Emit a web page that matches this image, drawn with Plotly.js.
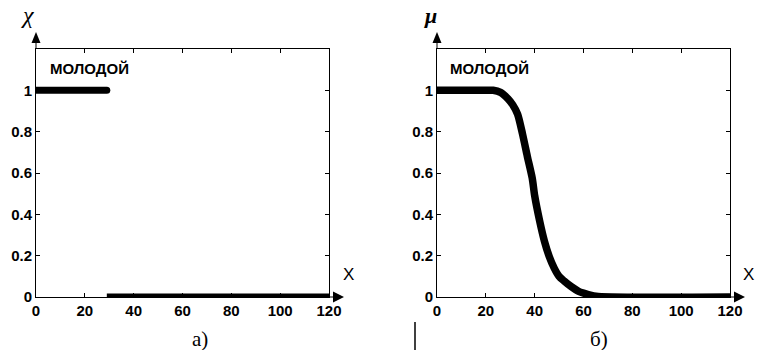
<!DOCTYPE html>
<html>
<head>
<meta charset="utf-8">
<script src="https://cdn.plot.ly/plotly-3.0.1.min.js"></script>
<style>
  html, body { margin: 0; padding: 0; background: #fff; }
  #chart { width: 760px; height: 350px; }
</style>
</head>
<body>
<div id="chart"></div>
<script>
// ---------- data ----------
const xTickVals = [0, 20, 40, 60, 80, 100, 120];
const xTickText = ['0', '20', '40', '60', '80', '100', '120'];
const yTickVals = [0, 0.2, 0.4, 0.6, 0.8, 1];
const yTickText = ['0', '0.2', '0.4', '0.6', '0.8', '1'];

// (a) crisp set "молодой"
const crispAgeHigh = [0, 29];
const crispValHigh = [1, 1];
const crispAgeLow = [29, 120];
const crispValLow = [0, 0];

// (б) fuzzy set "молодой"
const fuzzyAge = [0, 20, 23, 26, 29, 31, 33, 35, 37, 39, 40, 42, 44, 46, 48, 50, 52, 55, 58, 62, 66, 120];
const fuzzyMu  = [1, 1, 1, 0.99, 0.96, 0.93, 0.885, 0.79, 0.68, 0.575, 0.49, 0.37, 0.27, 0.195, 0.14, 0.1, 0.078, 0.05, 0.027, 0.012, 0.003, 0];

const setLabel = 'МОЛОДОЙ';
const panelLabels = ['а)', 'б)'];
const yTitles = ['χ', 'μ'];
const xTitle = 'X';

// ---------- layout helpers ----------
const W = 760, H = 350;
const px = x => x / W;
const py = y => 1 - y / H;
const sans = 'Liberation Sans, Arial, sans-serif';
const tickFont = { family: sans, size: 15, color: '#000', weight: 'bold' };

function xAxis(domain, anchor) {
  return {
    domain: domain, anchor: anchor, range: [0, 120],
    tickmode: 'array', tickvals: xTickVals, ticktext: xTickText,
    ticks: 'inside', ticklen: 4, tickwidth: 1, tickcolor: '#000',
    showline: true, linecolor: '#000', linewidth: 1, mirror: 'ticks',
    showgrid: false, zeroline: false, tickfont: tickFont, fixedrange: true
  };
}
function yAxis(anchor) {
  return {
    domain: [py(297), py(49)], anchor: anchor, range: [0, 1.2],
    tickmode: 'array', tickvals: yTickVals, ticktext: yTickText,
    ticks: 'inside', ticklen: 4, tickwidth: 1, tickcolor: '#000',
    showline: true, linecolor: '#000', linewidth: 1, mirror: 'ticks',
    showgrid: false, zeroline: false, tickfont: tickFont, fixedrange: true
  };
}

const traces = [
  { x: crispAgeHigh, y: crispValHigh, xaxis: 'x', yaxis: 'y', mode: 'lines',
    line: { color: '#000', width: 7 }, cliponaxis: false, showlegend: false },
  { x: crispAgeLow, y: crispValLow, xaxis: 'x', yaxis: 'y', mode: 'lines',
    line: { color: '#000', width: 7 }, cliponaxis: false, showlegend: false },
  { x: fuzzyAge, y: fuzzyMu, xaxis: 'x2', yaxis: 'y2', mode: 'lines',
    line: { color: '#000', width: 7.5, shape: 'spline', smoothing: 0.7 }, cliponaxis: false, showlegend: false }
];

// arrows (decorations)
function arrowShapes(axX, rightX) {
  return [
    { type: 'line', xref: 'paper', yref: 'paper', x0: px(axX), x1: px(axX), y0: py(49), y1: py(42), line: { color: '#000', width: 1 } },
    { type: 'path', xref: 'paper', yref: 'paper',
      path: `M ${px(axX - 4.5)} ${py(43)} L ${px(axX + 4.5)} ${py(43)} L ${px(axX)} ${py(32)} Z`,
      fillcolor: '#000', line: { color: '#000', width: 0 } },
    { type: 'line', xref: 'paper', yref: 'paper', x0: px(rightX), x1: px(rightX + 5), y0: py(297), y1: py(297), line: { color: '#000', width: 1 } },
    { type: 'path', xref: 'paper', yref: 'paper',
      path: `M ${px(rightX + 4)} ${py(291.5)} L ${px(rightX + 4)} ${py(302.5)} L ${px(rightX + 15)} ${py(297)} Z`,
      fillcolor: '#000', line: { color: '#000', width: 0 } }
  ];
}

const shapes = [].concat(
  arrowShapes(36, 329),
  arrowShapes(437, 730),
  [{ type: 'line', xref: 'paper', yref: 'paper', x0: px(415), x1: px(415), y0: py(322), y1: py(350), line: { color: '#000', width: 1.5 } }]
);

const labelFont = { family: sans, size: 15, color: '#000', weight: 'bold' };
const serifFont = { family: 'Liberation Serif, DejaVu Serif, serif', size: 21, color: '#000' };
const greekFont = { family: 'Liberation Serif, DejaVu Serif, serif', size: 24, color: '#000', style: 'italic' };
const xFont = { family: sans, size: 17, color: '#000' };

function ann(text, x, y, font, xanchor) {
  return { text: text, xref: 'paper', yref: 'paper', x: px(x), y: py(y),
           xanchor: xanchor || 'center', yanchor: 'middle', showarrow: false, font: font };
}

const annotations = [
  ann(setLabel, 48, 68, labelFont, 'left'),
  ann(setLabel, 448, 68, labelFont, 'left'),
  ann(yTitles[0], 28, 15, greekFont),
  ann(yTitles[1], 430, 16, Object.assign({}, greekFont, { weight: 'bold', size: 22 })),
  ann(xTitle, 348, 274, xFont),
  ann(xTitle, 748, 274, xFont),
  ann(panelLabels[0], 200, 339, serifFont),
  ann(panelLabels[1], 599, 339, serifFont)
];

const layout = {
  width: W, height: H,
  margin: { l: 0, r: 0, t: 0, b: 0, pad: 0 },
  paper_bgcolor: '#fff', plot_bgcolor: '#fff',
  showlegend: false, hovermode: false,
  xaxis: xAxis([px(36), px(329)], 'y'),
  yaxis: yAxis('x'),
  xaxis2: xAxis([px(437), px(730)], 'y2'),
  yaxis2: yAxis('x2'),
  shapes: shapes,
  annotations: annotations
};

Plotly.newPlot('chart', traces, layout, { staticPlot: true, displayModeBar: false, responsive: false }).then(gd => {
  // let the thick lines overflow the axes like in the original figure
  gd.querySelectorAll('.plot, .scatterlayer, .scatterlayer *').forEach(el => el.removeAttribute('clip-path'));
  const lines = gd.querySelectorAll('.scatterlayer .trace');
  if (lines[0]) lines[0].querySelectorAll('path.js-line').forEach(p => p.style.strokeLinecap = 'round');
});
</script>
</body>
</html>
